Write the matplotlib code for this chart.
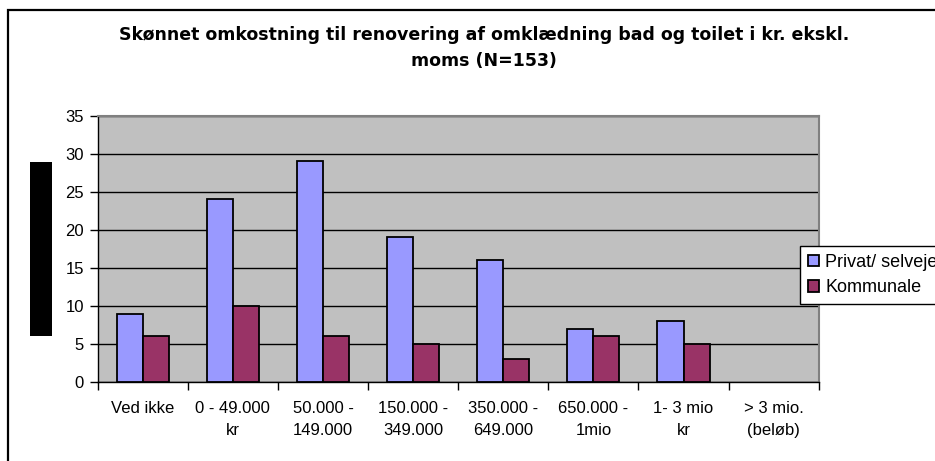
import matplotlib
matplotlib.use("Agg")
import matplotlib.pyplot as plt
from matplotlib.patches import Rectangle

plt.rcParams['font.family'] = ['Liberation Sans', 'DejaVu Sans']

categories = ["Ved ikke", "0 - 49.000\nkr", "50.000 -\n149.000", "150.000 -\n349.000",
              "350.000 -\n649.000", "650.000 -\n1mio", "1- 3 mio\nkr", "> 3 mio.\n(beløb)"]
privat = [9, 24, 29, 19, 16, 7, 8, 0]
kommunale = [6, 10, 6, 5, 3, 6, 5, 0]
series_names = ["Privat/ selvejende", "Kommunale"]
title = "Skønnet omkostning til renovering af omklædning bad og toilet i kr. ekskl.\nmoms (N=153)"

W, H = 935, 461
fig = plt.figure(figsize=(W / 100, H / 100), dpi=100)
ax = fig.add_axes([97.7 / W, 1 - 382 / H, 721 / W, 266.3 / H])

ax.set_facecolor('#C0C0C0')
x = list(range(len(categories)))
bw = 0.289
# empty categories get no outline
lw1 = [1.3 if v > 0 else 0 for v in privat]
lw2 = [1.3 if v > 0 else 0 for v in kommunale]
b1 = ax.bar([i - bw / 2 for i in x], privat, bw, color='#9999FF', edgecolor='black', linewidth=lw1, zorder=3)
b2 = ax.bar([i + bw / 2 for i in x], kommunale, bw, color='#993366', edgecolor='black', linewidth=lw2, zorder=3)

ax.set_xlim(-0.5, len(categories) - 0.5)
ax.set_ylim(0, 35)
ax.set_yticks(range(0, 36, 5))
ax.yaxis.grid(True, color='black', linewidth=1)
ax.set_axisbelow(True)

ax.set_xticks(x)
ax.set_xticklabels(categories, fontsize=12, linespacing=1.55)
ax.set_xticks([i - 0.5 for i in range(len(categories) + 1)], minor=True)
ax.tick_params(axis='x', which='major', length=0, pad=14)
ax.tick_params(axis='x', which='minor', length=6, width=1, direction='out')
ax.tick_params(axis='y', length=6, width=1, direction='out', labelsize=12, pad=4)

for side in ('top', 'right'):
    ax.spines[side].set_color('#808080')
    ax.spines[side].set_linewidth(1.5)
for side in ('left', 'bottom'):
    ax.spines[side].set_color('black')
    ax.spines[side].set_linewidth(1)

fig.text(484 / W, 1 - 26 / H, title, ha='center', va='top', fontsize=12.5,
         fontweight='bold', family=['DejaVu Sans'], linespacing=1.55)

leg = fig.legend([b1, b2], series_names, loc='upper left', bbox_to_anchor=(800 / W, 1 - 246 / H),
                 fontsize=13, frameon=True, fancybox=False, framealpha=1, edgecolor='black',
                 handlelength=0.6, handleheight=0.6, handletextpad=0.35, borderpad=0.45,
                 labelspacing=0.45, borderaxespad=0)
leg.get_frame().set_linewidth(1)

# redacted axis title block
fig.patches.append(Rectangle((30 / W, 1 - 336 / H), 22 / W, 174 / H, transform=fig.transFigure,
                             facecolor='black', edgecolor='none'))
# outer chart border
fig.patches.append(Rectangle((8 / W, -0.1), 1.2, 1 - 10 / H + 0.1, transform=fig.transFigure,
                             facecolor='none', edgecolor='black', linewidth=1.6, zorder=0))

fig.savefig('out.png', dpi=100)
